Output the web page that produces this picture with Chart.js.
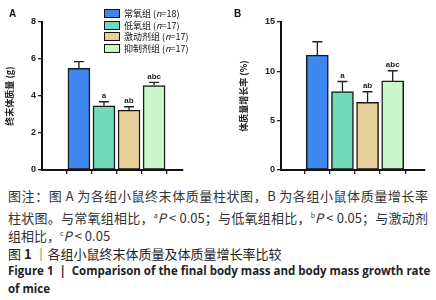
<!DOCTYPE html>
<html>
<head>
<meta charset="utf-8">
<script src="https://cdn.jsdelivr.net/npm/chart.js@4"></script>
<style>
  body { margin: 0; width: 436px; height: 300px; background: #fff; position: relative; overflow: hidden; font-family: "Noto Sans CJK SC", sans-serif; }
  .panel { position: absolute; }
  .tag { position: absolute; font: bold 10px "Liberation Sans", sans-serif; color: #111; }
  #legend { position: absolute; left: 104px; top: 8px; font: 9px "Noto Sans CJK SC", sans-serif; color: #111; }
  #legend div { height: 11.6px; line-height: 11px; white-space: nowrap; }
  #legend span.box { display: inline-block; width: 14px; height: 7px; border: 1.5px solid #111; vertical-align: -1px; margin-right: 4px; }
  .cap { position: absolute; left: 8px; width: 420px; font-size: 13px; line-height: 19px; color: #333; white-space: nowrap; }
  .j { text-align: justify; text-align-last: justify; }
  .en { font-family: "Open Sans", sans-serif; font-weight: bold; font-size: 11.5px; line-height: 15px; color: #222; }
  sup { font-size: 7px; }
</style>
</head>
<body>
<div class="panel" style="left:0;top:0;width:216px;height:185px"><canvas id="chartA"></canvas></div>
<div class="panel" style="left:216px;top:0;width:220px;height:185px"><canvas id="chartB"></canvas></div>
<div class="tag" style="left:9px;top:8px">A</div>
<div class="tag" style="left:234px;top:8px">B</div>
<div id="legend"></div>

<div class="cap j" style="top:185.5px">图注：图 A 为各组小鼠终末体质量柱状图，B 为各组小鼠体质量增长率</div>
<div class="cap j" style="top:205.5px">柱状图。与常氧组相比，<sup>a</sup><i>P</i> &lt; 0.05；与低氧组相比，<sup>b</sup><i>P</i> &lt; 0.05；与激动剂</div>
<div class="cap" style="top:223.5px">组相比，<sup>c</sup><i>P</i> &lt; 0.05</div>
<div class="cap" style="top:243.5px;color:#222">图 <b>1</b> ｜各组小鼠终末体质量及体质量增长率比较</div>
<div class="cap j en" style="top:262.5px">Figure 1&nbsp; |&nbsp; Comparison of the final body mass and body mass growth rate</div>
<div class="cap en" style="top:280.5px">of mice</div>

<script>
const groups = ['常氧组', '低氧组', '激动剂组', '抑制剂组'];
const groupN = [18, 17, 17, 17];
const colors = ['#3f86ee', '#72d9b9', '#e8d09a', '#c9f7c9'];

const massValues = [5.5, 3.47, 3.24, 4.57];
const massErrors = [5.86, 3.69, 3.42, 4.74];
const massLetters = ['', 'a', 'ab', 'abc'];
const massTicks = [0, 2, 4, 6, 8];

const rateValues = [11.65, 7.95, 6.85, 9.03];
const rateErrors = [13.0, 8.97, 7.93, 10.06];
const rateLetters = ['', 'a', 'ab', 'abc'];
const rateTicks = [0, 5, 10, 15];

// legend built from groups
let legendHtml = '';
for (let i = 0; i < groups.length; i++) {
  legendHtml += '<div><span class="box" style="background:' + colors[i] + '"></span>' + groups[i] + ' (<i>n</i>=' + groupN[i] + ')</div>';
}
document.getElementById('legend').innerHTML = legendHtml;

const errorBars = {
  id: 'errorBars',
  afterDatasetsDraw(chart, args, opts) {
    const ctx = chart.ctx;
    const meta = chart.getDatasetMeta(0);
    const yScale = chart.scales.y;
    ctx.save();
    ctx.strokeStyle = '#222';
    ctx.lineWidth = 1.3;
    ctx.fillStyle = '#222';
    ctx.font = 'bold 8px "Liberation Sans", sans-serif';
    ctx.textAlign = 'center';
    ctx.textBaseline = 'bottom';
    meta.data.forEach((bar, i) => {
      const top = yScale.getPixelForValue(opts.errors[i]);
      ctx.beginPath();
      ctx.moveTo(bar.x, bar.y);
      ctx.lineTo(bar.x, top);
      ctx.moveTo(bar.x - 5, top);
      ctx.lineTo(bar.x + 5, top);
      ctx.stroke();
      if (opts.letters[i]) ctx.fillText(opts.letters[i], bar.x, top - 2);
    });
    ctx.restore();
  },
};

function chart_bar(id, values, errors, letters, ticks, title, xmin, xmax, padLeft, yWidth, padRight) {
  let ctx = document.getElementById(id).getContext('2d');
  let data = values.map((v, i) => ({ x: i, y: v }));
  return new Chart(ctx, {
    type: 'bar',
    data: {
      datasets: [
        {
          data: data,
          backgroundColor: colors,
          borderColor: '#1a1a1a',
          borderWidth: 1.5,
          borderSkipped: false,
          barThickness: 22,
        },
      ],
    },
    plugins: [errorBars],
    options: {
      animation: false,
      responsive: true,
      maintainAspectRatio: false,
      layout: { padding: { left: padLeft, right: padRight, top: 22, bottom: 0 } },
      scales: {
        x: {
          type: 'linear',
          min: xmin,
          max: xmax,
          afterFit(scale) { scale.height = 15; },
          ticks: { stepSize: 1, includeBounds: false, callback: () => '' },
          grid: { drawOnChartArea: false, tickLength: 4, color: '#222', lineWidth: 1.3 },
          border: { color: '#111', width: 2 },
        },
        y: {
          min: ticks[0],
          max: ticks[ticks.length - 1],
          afterFit(scale) { scale.width = yWidth; },
          afterBuildTicks(scale) { scale.ticks = ticks.map(v => ({ value: v })); },
          ticks: { color: '#222', padding: 2, font: { size: 9, weight: 'bold', family: 'Liberation Sans' } },
          grid: { drawOnChartArea: false, tickLength: 4, color: '#222', lineWidth: 1.3 },
          border: { color: '#111', width: 2 },
          title: { display: true, text: title, color: '#222', padding: 0, font: { size: 9, weight: 'bold', family: 'Noto Sans CJK SC' } },
        },
      },
      plugins: {
        legend: { display: false },
        tooltip: { enabled: false },
        errorBars: { errors: errors, letters: letters },
      },
    },
  });
}

chart_bar('chartA', massValues, massErrors, massLetters, massTicks, '终末体质量 (g)', -0.77, 3.45, 4, 38, 33);
chart_bar('chartB', rateValues, rateErrors, rateLetters, rateTicks, '体质量增长率 (%)', -0.73, 3.57, 22, 43, 11);
</script>
</body>
</html>
